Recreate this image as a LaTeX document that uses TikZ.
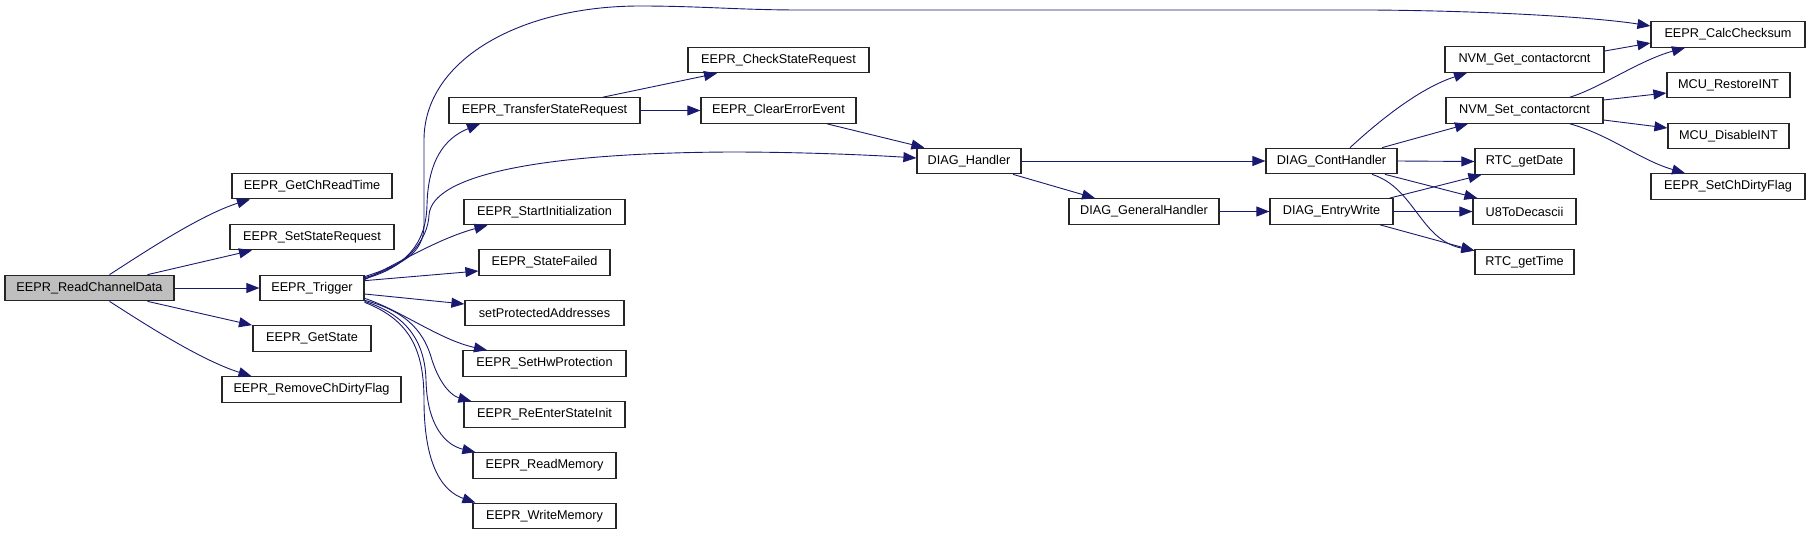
\documentclass[tikz,border=0pt]{standalone}
\usepackage{fontspec}
\setmainfont{Liberation Sans}
\usetikzlibrary{arrows.meta}
\definecolor{edgecol}{HTML}{191970}
\definecolor{rootfill}{HTML}{BFBFBF}
\tikzset{
  fn/.style={draw=black!85, line width=1.2pt, fill=white, minimum height=25.5pt, inner sep=0pt,
    font=\fontsize{12.7}{14}\selectfont},
  rootfn/.style={fn, fill=rootfill},
  e/.style={draw=edgecol, line width=0.9pt, -{Triangle[length=13pt,width=10pt]}}
}
\begin{document}
\begin{tikzpicture}[x=1pt,y=-1pt]
\useasboundingbox (0,0) rectangle (1811,535);
% nodes
\node[rootfn, minimum width=169pt] (rcd) at (89.5,288) {EEPR\_ReadChannelData};
\node[fn, minimum width=160pt] (gcrt) at (312,186) {EEPR\_GetChReadTime};
\node[fn, minimum width=164pt] (ssr) at (312,237) {EEPR\_SetStateRequest};
\node[fn, minimum width=104pt] (trig) at (312,288) {EEPR\_Trigger};
\node[fn, minimum width=118pt] (gst) at (312,338.5) {EEPR\_GetState};
\node[fn, minimum width=179pt] (rcdf) at (311.5,389.5) {EEPR\_RemoveChDirtyFlag};
\node[fn, minimum width=191pt] (tsr) at (544.5,110.5) {EEPR\_TransferStateRequest};
\node[fn, minimum width=161pt] (sti) at (544.5,212) {EEPR\_StartInitialization};
\node[fn, minimum width=131pt] (sf) at (544.5,262.5) {EEPR\_StateFailed};
\node[fn, minimum width=159pt] (spa) at (544.5,313) {setProtectedAddresses};
\node[fn, minimum width=163pt] (shp) at (544.5,363.5) {EEPR\_SetHwProtection};
\node[fn, minimum width=161pt] (rsi) at (544.5,414.5) {EEPR\_ReEnterStateInit};
\node[fn, minimum width=143pt] (rm) at (544.5,465.5) {EEPR\_ReadMemory};
\node[fn, minimum width=143pt] (wm) at (544.5,516) {EEPR\_WriteMemory};
\node[fn, minimum width=181pt] (csr) at (778.5,60) {EEPR\_CheckStateRequest};
\node[fn, minimum width=155pt] (cee) at (778.5,110.5) {EEPR\_ClearErrorEvent};
\node[fn, minimum width=104pt] (dh) at (969,161) {DIAG\_Handler};
\node[fn, minimum width=150pt] (dgh) at (1144,211.5) {DIAG\_GeneralHandler};
\node[fn, minimum width=131pt] (dch) at (1331.5,161) {DIAG\_ContHandler};
\node[fn, minimum width=123pt] (dew) at (1331.5,211.5) {DIAG\_EntryWrite};
\node[fn, minimum width=159pt] (nget) at (1524.5,59.5) {NVM\_Get\_contactorcnt};
\node[fn, minimum width=157pt] (nset) at (1524.5,110.5) {NVM\_Set\_contactorcnt};
\node[fn, minimum width=99pt] (rgd) at (1524.5,161.5) {RTC\_getDate};
\node[fn, minimum width=103pt] (u8) at (1524.5,211.5) {U8ToDecascii};
\node[fn, minimum width=99pt] (rgt) at (1524.5,262) {RTC\_getTime};
\node[fn, minimum width=154pt] (ecs) at (1728,34.5) {EEPR\_CalcChecksum};
\node[fn, minimum width=123pt] (mri) at (1728.5,85) {MCU\_RestoreINT};
\node[fn, minimum width=121pt] (mdi) at (1728.5,136) {MCU\_DisableINT};
\node[fn, minimum width=154pt] (scdf) at (1728,186.5) {EEPR\_SetChDirtyFlag};
% edges from ReadChannelData
\draw[e] ([xshift=20pt]rcd.north) .. controls (140,255) and (200,215) .. ([xshift=-62pt]gcrt.south);
\draw[e] ([xshift=58pt]rcd.north) -- ([xshift=-60pt]ssr.south);
\draw[e] (rcd.east) -- (trig.west);
\draw[e] ([xshift=58pt]rcd.south) -- ([xshift=-60pt]gst.north);
\draw[e] ([xshift=20pt]rcd.south) .. controls (140,321) and (200,360) .. ([xshift=-60pt]rcdf.north);
% edges from Trigger
\draw[e] ([yshift=-2pt]trig.north east) .. controls (400,265) and (424,255) .. (424,225) -- (424,140)
   .. controls (424,60) and (520,6) .. (640,6) .. controls (700,6) and (740,10) .. (800,10) -- (1372,10)
   .. controls (1500,11) and (1600,18) .. ([yshift=8.5pt]ecs.west);
\draw[e] ([yshift=-3pt]trig.north east) .. controls (405,267) and (426,245) .. (427,205)
   .. controls (428,160) and (445,138) .. ([xshift=-64.5pt]tsr.south);
\draw[e] ([yshift=-4pt]trig.north east) .. controls (406,268) and (428,240) .. (429,215)
   .. controls (432,175) and (540,153) .. (730,152) .. controls (800,152) and (870,155) .. ([yshift=3pt]dh.west);
\draw[e] ([yshift=-5pt]trig.north east) .. controls (400,262) and (440,238) .. ([xshift=-57pt]sti.south);
\draw[e] ([yshift=-6pt]trig.north east) -- ([yshift=-8.5pt]sf.west);
\draw[e] ([yshift=-6pt]trig.east) -- ([yshift=9pt]spa.west);
\draw[e] ([yshift=3pt]trig.south east) .. controls (400,310) and (440,340) .. ([xshift=-57.5pt]shp.north);
\draw[e] ([yshift=1pt]trig.south east) .. controls (410,312) and (425,335) .. (432,360)
   .. controls (440,385) and (452,396) .. ([xshift=8pt]rsi.north west);
\draw[e] (trig.south east) .. controls (410,316) and (425,345) .. (426,380)
   .. controls (427,425) and (445,445) .. ([xshift=3pt]rm.north west);
\draw[e] ([yshift=-1pt]trig.south east) .. controls (410,320) and (424,350) .. (424,400)
   .. controls (424,470) and (445,492) .. ([xshift=3pt]wm.north west);
% TransferStateRequest
\draw[e] ([xshift=58.5pt]tsr.north) -- ([xshift=-61.5pt]csr.south);
\draw[e] (tsr.east) -- (cee.west);
\draw[e] ([xshift=48.5pt]cee.south) -- ([xshift=8pt]dh.north west);
% DIAG
\draw[e] (dh.east) -- (dch.west);
\draw[e] ([xshift=44pt]dh.south) -- ([xshift=-49pt]dgh.north);
\draw[e] (dgh.east) -- (dew.west);
\draw[e] ([xshift=18.5pt]dch.north) .. controls (1380,120) and (1420,88) .. ([xshift=-57.5pt]nget.south);
\draw[e] ([xshift=50.5pt]dch.north) -- ([xshift=-56.5pt]nset.south);
\draw[e] (dch.east) -- (rgd.west);
\draw[e] ([xshift=53.5pt]dch.south) -- ([xshift=5pt]u8.north west);
\draw[e] ([xshift=40.5pt]dch.south) .. controls (1415,188) and (1420,240) .. ([yshift=-2pt]rgt.north west);
\draw[e] ([xshift=58pt]dew.north) -- ([xshift=7pt]rgd.south west);
\draw[e] (dew.east) -- (u8.west);
\draw[e] ([xshift=48.5pt]dew.south) -- ([yshift=-2pt]rgt.north west);
% NVM
\draw[e] ([yshift=8.5pt]nget.east) -- ([yshift=-8.5pt]ecs.west);
\draw[e] ([xshift=45.5pt]nset.north) .. controls (1600,88) and (1640,60) .. ([xshift=-43pt]ecs.south);
\draw[e] ([yshift=10.5pt]nset.east) -- ([yshift=-8pt]mri.west);
\draw[e] ([yshift=-9.5pt]nset.east) -- ([yshift=8pt]mdi.west);
\draw[e] ([xshift=45.5pt]nset.south) .. controls (1610,135) and (1640,160) .. ([xshift=-43pt]scdf.north);
\end{tikzpicture}
\end{document}
